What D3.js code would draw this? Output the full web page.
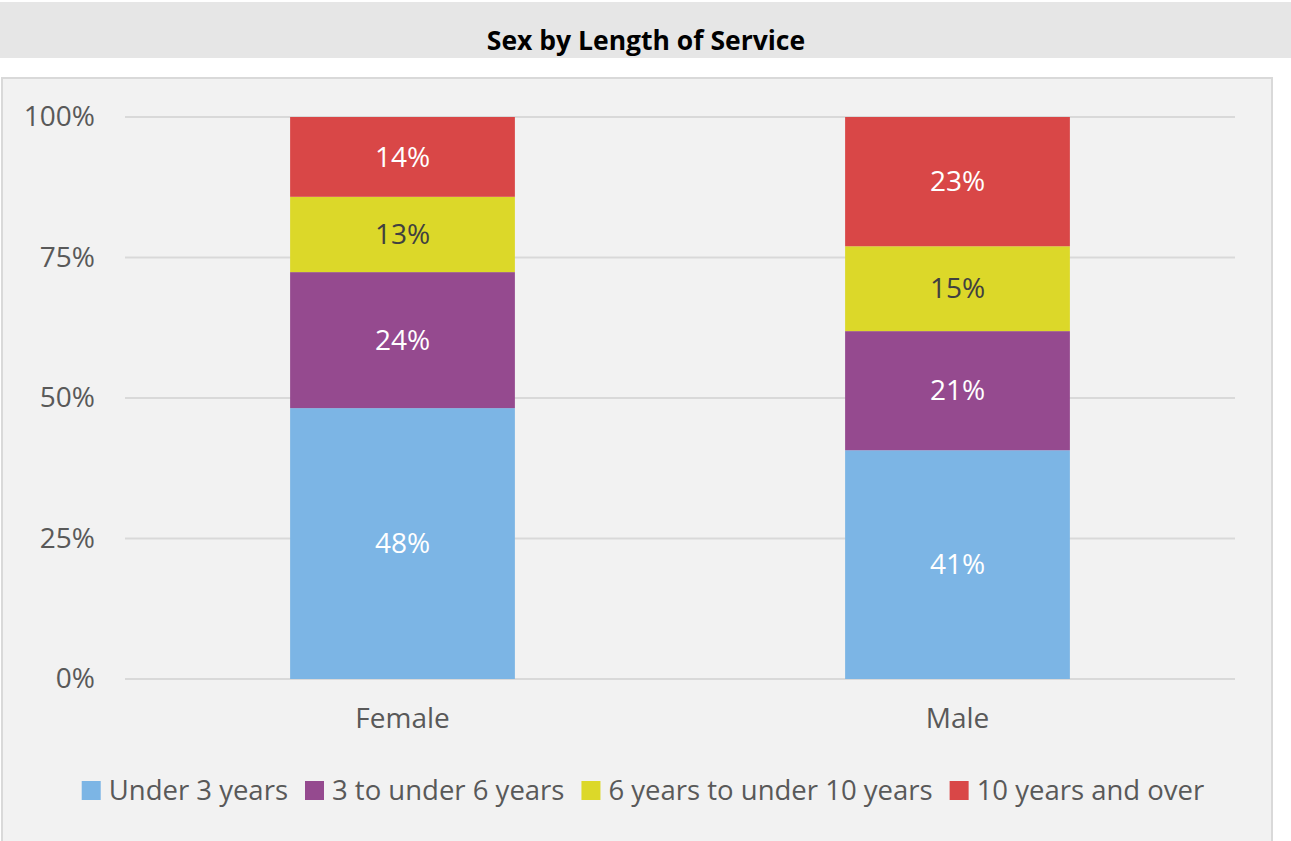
<!DOCTYPE html>
<html>
<head>
<meta charset="utf-8">
<script src="https://cdn.jsdelivr.net/npm/d3@7"></script>
<style>
    body { margin: 0; background: #ffffff; font-family: "Open Sans", sans-serif; }
    svg { display: block; }
</style>
</head>
<body>
<svg id="chart" width="1291" height="841"></svg>
<script>
// chart values
const categories = ["Female", "Male"];
const seriesNames = ["Under 3 years", "3 to under 6 years", "6 years to under 10 years", "10 years and over"];
const femaleValues = [48.2, 24.2, 13.4, 14.2];
const maleValues = [40.7, 21.2, 15.1, 23.0];
const yTicks = [0, 0.25, 0.5, 0.75, 1];
const seriesColors = ["#7cb5e5", "#954a8f", "#dcd829", "#d94747"];
const labelColors = ["#ffffff", "#ffffff", "#404040", "#ffffff"];

const svg = d3.select("#chart");
const width = +svg.attr("width");
const height = +svg.attr("height");

// title bar
svg.append("rect")
    .attr("x", 0).attr("y", 2)
    .attr("width", width).attr("height", 56)
    .style("fill", "#e6e6e6");
svg.append("text")
    .attr("x", 646).attr("y", 50)
    .attr("text-anchor", "middle")
    .style("font-size", "26.5px")
    .style("font-weight", "bold")
    .style("fill", "#000000")
    .text("Sex by Length of Service");

// chart panel
svg.append("rect")
    .attr("x", 2).attr("y", 78)
    .attr("width", 1270).attr("height", 764)
    .style("fill", "#f2f2f2")
    .style("stroke", "#d9d9d9")
    .style("stroke-width", 2);

const margin = {top: 117, left: 125, right: 1235, bottom: 679};

const x = d3.scaleBand()
    .domain(categories)
    .range([margin.left, margin.right])
    .paddingInner(0.595)
    .paddingOuter(0.2975);

const y = d3.scaleLinear()
    .domain([0, 1])
    .range([margin.bottom, margin.top]);

// gridlines
svg.append("g")
    .selectAll("line")
    .data(yTicks)
    .join("line")
    .attr("x1", margin.left).attr("x2", margin.right)
    .attr("y1", d => y(d)).attr("y2", d => y(d))
    .style("stroke", "#d9d9d9")
    .style("stroke-width", 2);

// y axis labels
const yAxis = d3.axisLeft(y)
    .tickValues(yTicks)
    .tickFormat(d3.format(".0%"))
    .tickSize(0)
    .tickPadding(30);
const yAxisG = svg.append("g")
    .attr("transform", "translate(" + margin.left + ",0)")
    .call(yAxis);
yAxisG.select(".domain").remove();
yAxisG.selectAll("text")
    .style("font-family", "Open Sans")
    .style("font-size", "28px")
    .style("fill", "#595959");

// x axis labels
const xAxis = d3.axisBottom(x).tickSize(0).tickPadding(29);
const xAxisG = svg.append("g")
    .attr("transform", "translate(0," + margin.bottom + ")")
    .call(xAxis);
xAxisG.select(".domain").remove();
xAxisG.selectAll("text")
    .style("font-family", "Open Sans")
    .style("font-size", "28px")
    .style("fill", "#595959");

// stacked data, normalised to 100%
const rows = categories.map((c, i) => {
    const vals = i === 0 ? femaleValues : maleValues;
    const total = d3.sum(vals);
    const row = {category: c};
    seriesNames.forEach((s, j) => row[s] = vals[j] / total);
    return row;
});
const stacked = d3.stack().keys(seriesNames)(rows);

const layers = svg.append("g")
    .selectAll("g")
    .data(stacked)
    .join("g")
    .style("fill", (d, i) => seriesColors[i]);

layers.selectAll("rect")
    .data(d => d)
    .join("rect")
    .attr("x", d => x(d.data.category))
    .attr("width", x.bandwidth())
    .attr("y", d => y(d[1]))
    .attr("height", d => y(d[0]) - y(d[1]));

layers.each(function (layer, i) {
    d3.select(this).selectAll("text")
        .data(layer)
        .join("text")
        .attr("x", d => x(d.data.category) + x.bandwidth() / 2)
        .attr("y", d => (y(d[0]) + y(d[1])) / 2)
        .attr("dy", "0.35em")
        .attr("text-anchor", "middle")
        .style("font-size", "28px")
        .style("fill", labelColors[i])
        .text(d => Math.round((d[1] - d[0]) * 100) + "%");
});

// legend
const legend = svg.append("g");
const items = legend.selectAll("g")
    .data(seriesNames)
    .join("g");
items.append("rect")
    .attr("width", 19).attr("height", 19)
    .attr("y", -9)
    .style("fill", (d, i) => seriesColors[i]);
items.append("text")
    .attr("x", 27)
    .attr("dy", "0.35em")
    .style("font-size", "27.5px")
    .style("fill", "#595959")
    .text(d => d);

let offsets = [], pos = 0;
items.each(function () {
    offsets.push(pos);
    pos += this.getBBox().width + 17;
});
const legendWidth = pos - 17;
const legendStart = 643 - legendWidth / 2;
items.attr("transform", (d, i) => "translate(" + (legendStart + offsets[i]) + ",790)");
</script>
</body>
</html>
